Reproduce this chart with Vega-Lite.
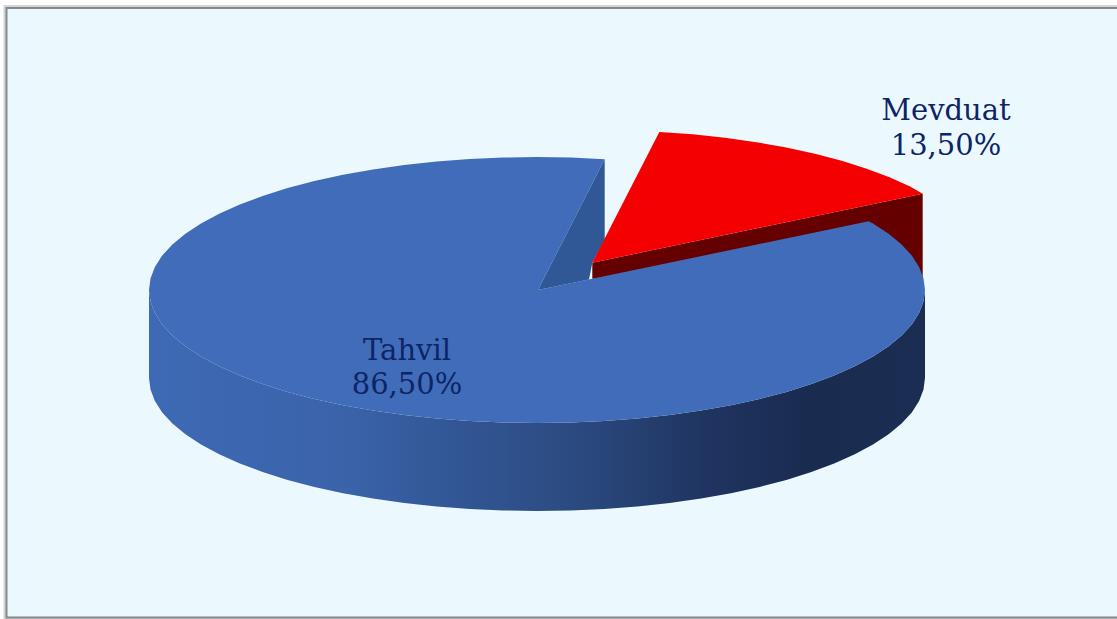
{"$schema":"https://vega.github.io/schema/vega-lite/v6.json","width":1117,"height":619,"padding":0,"autosize":{"type":"fit","contains":"padding"},"background":"#ffffff","config":{"view":{"stroke":null}},
"datasets":{
"panel":[{"x":6.5,"x2":1130,"y":8,"y2":617.5}],
"side":[{"x":149,"y":290,"y2":378},{"x":150.5,"y":301.6,"y2":389.6},{"x":154.9,"y":313.1,"y2":401.1},{"x":162.2,"y":324.4,"y2":412.4},{"x":172.4,"y":335.5,"y2":423.5},{"x":185.4,"y":346.2,"y2":434.2},{"x":201,"y":356.5,"y2":444.5},{"x":219.2,"y":366.3,"y2":454.3},{"x":239.8,"y":375.5,"y2":463.5},{"x":262.6,"y":384,"y2":472},{"x":287.6,"y":391.9,"y2":479.9},{"x":314.4,"y":398.9,"y2":486.9},{"x":343,"y":405.2,"y2":493.2},{"x":373,"y":410.5,"y2":498.5},{"x":404.3,"y":415,"y2":503},{"x":436.6,"y":418.5,"y2":506.5},{"x":469.6,"y":421,"y2":509},{"x":503.2,"y":422.5,"y2":510.5},{"x":537,"y":423,"y2":511},{"x":570.8,"y":422.5,"y2":510.5},{"x":604.4,"y":421,"y2":509},{"x":637.4,"y":418.5,"y2":506.5},{"x":669.7,"y":415,"y2":503},{"x":701,"y":410.5,"y2":498.5},{"x":731,"y":405.2,"y2":493.2},{"x":759.6,"y":398.9,"y2":486.9},{"x":786.4,"y":391.9,"y2":479.9},{"x":811.4,"y":384,"y2":472},{"x":834.2,"y":375.5,"y2":463.5},{"x":854.8,"y":366.3,"y2":454.3},{"x":873,"y":356.5,"y2":444.5},{"x":888.6,"y":346.2,"y2":434.2},{"x":901.6,"y":335.5,"y2":423.5},{"x":911.8,"y":324.4,"y2":412.4},{"x":919.1,"y":313.1,"y2":401.1},{"x":923.5,"y":301.6,"y2":389.6},{"x":925,"y":290,"y2":378}],
"redSide":[{"i":1,"x":592.3,"y":262.7},{"i":2,"x":922.7,"y":193.7},{"i":3,"x":922.7,"y":281.7},{"i":4,"x":592.3,"y":278.7}],
"blueTop":[{"i":1,"x":604.7,"y":159.3},{"i":2,"x":570.8,"y":157.5},{"i":3,"x":537,"y":157},{"i":4,"x":503.2,"y":157.5},{"i":5,"x":469.6,"y":159},{"i":6,"x":436.6,"y":161.5},{"i":7,"x":404.3,"y":165},{"i":8,"x":373,"y":169.5},{"i":9,"x":343,"y":174.8},{"i":10,"x":314.4,"y":181.1},{"i":11,"x":287.6,"y":188.1},{"i":12,"x":262.6,"y":196},{"i":13,"x":239.8,"y":204.5},{"i":14,"x":219.2,"y":213.7},{"i":15,"x":201,"y":223.5},{"i":16,"x":185.4,"y":233.8},{"i":17,"x":172.4,"y":244.5},{"i":18,"x":162.2,"y":255.6},{"i":19,"x":154.9,"y":266.9},{"i":20,"x":150.5,"y":278.4},{"i":21,"x":149,"y":290},{"i":22,"x":150.5,"y":301.6},{"i":23,"x":154.9,"y":313.1},{"i":24,"x":162.2,"y":324.4},{"i":25,"x":172.4,"y":335.5},{"i":26,"x":185.4,"y":346.2},{"i":27,"x":201,"y":356.5},{"i":28,"x":219.2,"y":366.3},{"i":29,"x":239.8,"y":375.5},{"i":30,"x":262.6,"y":384},{"i":31,"x":287.6,"y":391.9},{"i":32,"x":314.4,"y":398.9},{"i":33,"x":343,"y":405.2},{"i":34,"x":373,"y":410.5},{"i":35,"x":404.3,"y":415},{"i":36,"x":436.6,"y":418.5},{"i":37,"x":469.6,"y":421},{"i":38,"x":503.2,"y":422.5},{"i":39,"x":537,"y":423},{"i":40,"x":570.8,"y":422.5},{"i":41,"x":604.4,"y":421},{"i":42,"x":637.4,"y":418.5},{"i":43,"x":669.7,"y":415},{"i":44,"x":701,"y":410.5},{"i":45,"x":731,"y":405.2},{"i":46,"x":759.6,"y":398.9},{"i":47,"x":786.4,"y":391.9},{"i":48,"x":811.4,"y":384},{"i":49,"x":834.2,"y":375.5},{"i":50,"x":854.8,"y":366.3},{"i":51,"x":873,"y":356.5},{"i":52,"x":888.6,"y":346.2},{"i":53,"x":901.6,"y":335.5},{"i":54,"x":911.8,"y":324.4},{"i":55,"x":919.1,"y":313.1},{"i":56,"x":923.5,"y":301.6},{"i":57,"x":925,"y":290},{"i":58,"x":923.5,"y":278.4},{"i":59,"x":919.1,"y":266.9},{"i":60,"x":911.8,"y":255.6},{"i":61,"x":901.6,"y":244.5},{"i":62,"x":888.6,"y":233.8},{"i":63,"x":873,"y":223.5},{"i":64,"x":868.7,"y":221.3},{"i":65,"x":538,"y":290}],
"wedge":[{"i":1,"x":538,"y":290},{"i":2,"x":604.7,"y":159.3},{"i":3,"x":604.7,"y":240},{"i":4,"x":592.3,"y":262.7},{"i":5,"x":589,"y":279.5}],
"redTop":[{"i":1,"x":592.3,"y":262.7},{"i":2,"x":659.3,"y":132},{"i":3,"x":692.7,"y":134.2},{"i":4,"x":725,"y":137.7},{"i":5,"x":756.3,"y":142.2},{"i":6,"x":786.3,"y":147.5},{"i":7,"x":814.9,"y":153.8},{"i":8,"x":841.7,"y":160.8},{"i":9,"x":866.7,"y":168.7},{"i":10,"x":889.5,"y":177.2},{"i":11,"x":910.1,"y":186.4},{"i":12,"x":922.7,"y":193.7}],
"labels":[{"t":"Mevduat","x":946,"y":120},{"t":"13,50%","x":946,"y":155},{"t":"Tahvil","x":407,"y":360},{"t":"86,50%","x":407,"y":394}]
},
"encoding":{"x":{"field":"x","type":"quantitative","scale":{"domain":[0,1117],"nice":false,"zero":false},"axis":null},"y":{"field":"y","type":"quantitative","scale":{"domain":[619,0],"nice":false,"zero":false},"axis":null}},
"layer":[
{"data":{"name":"panel"},"mark":{"type":"rect","clip":true,"fill":"#ffffff","stroke":"#d2d4d6","strokeWidth":6},"encoding":{"x2":{"field":"x2"},"y2":{"field":"y2"}}},
{"data":{"name":"panel"},"mark":{"type":"rect","clip":true,"fill":"#ebf9ff","stroke":"#85898d","strokeWidth":2},"encoding":{"x2":{"field":"x2"},"y2":{"field":"y2"}}},
{"data":{"name":"side"},"mark":{"type":"area","color":{"gradient":"linear","x1":0,"y1":0,"x2":1,"y2":0,"stops":[{"offset":0,"color":"#3e69b4"},{"offset":0.25,"color":"#3a63aa"},{"offset":0.4,"color":"#325694"},{"offset":0.55,"color":"#2b4a80"},{"offset":0.72,"color":"#1f3460"},{"offset":0.85,"color":"#1a2b50"},{"offset":1,"color":"#1b2d52"}]}},"encoding":{"y2":{"field":"y2"}}},
{"data":{"name":"redSide"},"mark":{"type":"line","fill":"#640000","stroke":null,"strokeWidth":0},"encoding":{"order":{"field":"i"}}},
{"data":{"name":"blueTop"},"mark":{"type":"line","fill":"#416cb9","stroke":null,"strokeWidth":0},"encoding":{"order":{"field":"i"}}},
{"data":{"name":"wedge"},"mark":{"type":"line","fill":"#315896","stroke":null,"strokeWidth":0},"encoding":{"order":{"field":"i"}}},
{"data":{"name":"redTop"},"mark":{"type":"line","fill":"#f50000","stroke":null,"strokeWidth":0},"encoding":{"order":{"field":"i"}}},
{"data":{"name":"labels"},"mark":{"type":"text","font":"DejaVu Serif","fontSize":29,"color":"#0d2566","align":"center","baseline":"alphabetic"},"encoding":{"text":{"field":"t"}}}
]}
